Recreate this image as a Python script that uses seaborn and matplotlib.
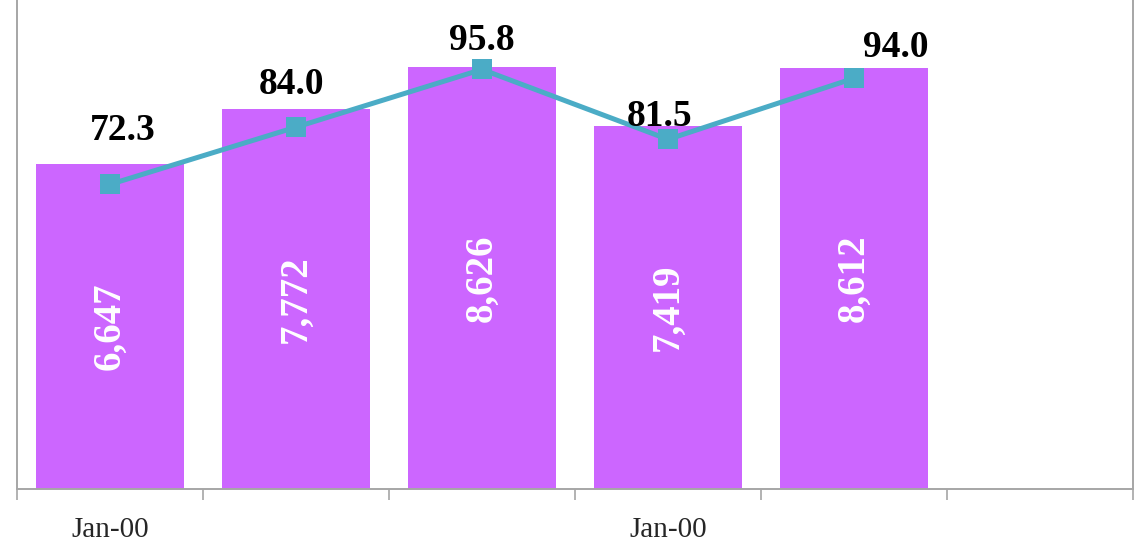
import numpy as np
import pandas as pd
import matplotlib
matplotlib.use("Agg")
import matplotlib.pyplot as plt
import seaborn as sns

# 데이터
slots = [0, 1, 2, 3, 4]
volumes = [6647, 7772, 8626, 7419, 8612]
ratios = [72.3, 84.0, 95.8, 81.5, 94.0]
tick_labels = ["Jan-00", "", "", "Jan-00", "", ""]

# 라벨 위치 보정 (픽셀, 위쪽이 +)
label_offsets = [(13, 54), (-5, 43), (0, 29), (-8, 23), (42, 31)]

bar_color = "#CC66FF"
line_color = "#4BACC6"
spine_color = "#A6A6A6"

sns.set_style("white")
plt.rcParams['font.family'] = ['Liberation Serif', 'DejaVu Serif']

df = pd.DataFrame({"slot": slots, "volume": volumes, "ratio": ratios})

fig = plt.figure(figsize=(11.4, 5.48), dpi=100)
ax1 = fig.add_axes([17 / 1140, 59 / 548, 1116 / 1140, 489 / 548])

sns.barplot(data=df, x="slot", y="volume", ax=ax1, color=bar_color,
            width=0.8, saturation=1, errorbar=None, linewidth=0)
ax1.set_xlim(-0.5, 5.5)
ax1.set_ylim(0, 10000)
ax1.set_yticks([])
ax1.set_xlabel("")
ax1.set_ylabel("")

# 막대 안 값 (흰색, 세로)
for i, v in enumerate(df["volume"]):
    ax1.text(i, v / 2, f"{v:,}", rotation=90, ha="center", va="center",
             color="white", fontsize=28, fontweight="bold")

# 꺾은선 (보조축)
ax2 = ax1.twinx()
sns.lineplot(data=df, x="slot", y="ratio", ax=ax2, color=line_color,
             linewidth=3.6, marker="s", markersize=14.5, markeredgewidth=0,
             errorbar=None)
ax2.set_ylim(10, 110)
ax2.set_yticks([])
ax2.set_ylabel("")
ax2.set_xlim(-0.5, 5.5)

for (i, r), (dx, dy) in zip(enumerate(df["ratio"]), label_offsets):
    ax2.annotate(f"{r:.1f}", (i, r), xytext=(dx, dy), textcoords="offset pixels",
                 ha="center", va="center", fontsize=27, fontweight="bold",
                 color="black")

# 축 꾸미기
ax1.set_xticks(range(6))
ax1.set_xticklabels(tick_labels, fontsize=21)
ax1.set_xticks(np.arange(-0.5, 6.0, 1.0), minor=True)
ax1.tick_params(axis="x", which="major", length=0, pad=20)
ax1.tick_params(axis="x", which="minor", length=8, width=1.2, color=spine_color,
                direction="out", bottom=True)
for ax in (ax1, ax2):
    for side in ["left", "right", "bottom"]:
        ax.spines[side].set_visible(True)
        ax.spines[side].set_color(spine_color)
        ax.spines[side].set_linewidth(1.2)
    ax.spines["top"].set_visible(False)

plt.savefig("out.png", dpi=100)
plt.close(fig)
